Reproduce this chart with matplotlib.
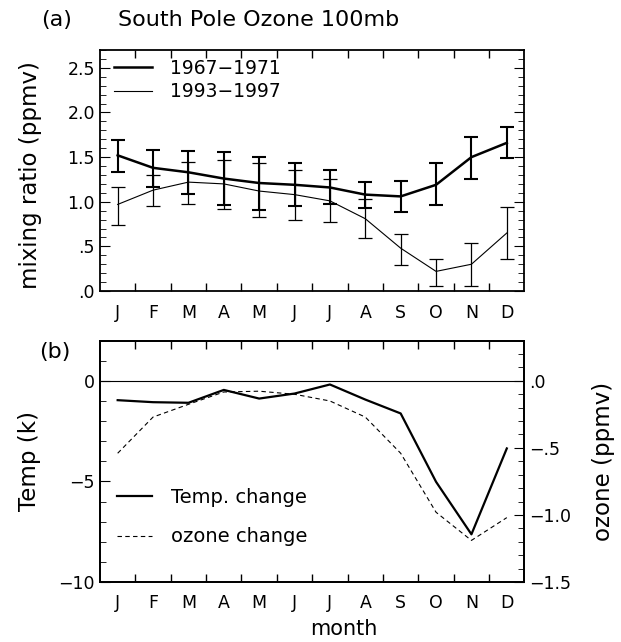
import numpy as np
import matplotlib
matplotlib.use("Agg")
import matplotlib.pyplot as plt
from matplotlib.ticker import MultipleLocator, FixedLocator, FuncFormatter

plt.rcParams['font.family'] = ['DejaVu Sans']

months = ["J", "F", "M", "A", "M", "J", "J", "A", "S", "O", "N", "D"]

# panel (a): South Pole ozone mixing ratio at 100mb (ppmv)
old_mean = [1.52, 1.38, 1.33, 1.26, 1.21, 1.19, 1.16, 1.08, 1.06, 1.19, 1.50, 1.66]
old_hi = [1.69, 1.58, 1.57, 1.56, 1.50, 1.43, 1.36, 1.22, 1.23, 1.43, 1.73, 1.84]
old_lo = [1.33, 1.17, 1.09, 0.96, 0.91, 0.95, 0.97, 0.93, 0.89, 0.96, 1.26, 1.49]
new_mean = [0.97, 1.13, 1.22, 1.20, 1.12, 1.08, 1.01, 0.81, 0.48, 0.22, 0.30, 0.65]
new_hi = [1.17, 1.30, 1.45, 1.47, 1.43, 1.36, 1.26, 1.03, 0.64, 0.36, 0.54, 0.94]
new_lo = [0.74, 0.95, 0.98, 0.92, 0.83, 0.80, 0.77, 0.59, 0.29, 0.06, 0.06, 0.36]

# panel (b): changes
temp_change = [-0.96, -1.06, -1.09, -0.45, -0.88, -0.63, -0.18, -0.93, -1.62, -5.02, -7.63, -3.36]
ozone_change = [-0.54, -0.27, -0.175, -0.083, -0.077, -0.10, -0.15, -0.27, -0.54, -0.98, -1.19, -1.02]

x = np.arange(1, 13)
fs = 12.5
lab = 16.5

fig = plt.figure(figsize=(6.21, 6.42), dpi=100)
ax1 = fig.add_axes([0.161, 0.5467, 0.6836, 0.3754])
ax2 = fig.add_axes([0.161, 0.0935, 0.6836, 0.3759])


def month_axis(ax):
    ax.set_xlim(0.5, 12.5)
    ax.xaxis.set_major_locator(FixedLocator(x))
    ax.set_xticklabels(months)
    ax.xaxis.set_minor_locator(FixedLocator(x[:-1] + 0.5))
    ax.tick_params(axis='x', which='major', length=0, pad=9, labelsize=fs)
    ax.tick_params(axis='x', which='minor', direction='in', length=6, width=1,
                   top=True, bottom=True)
    for s in ax.spines.values():
        s.set_linewidth(1.3)


def dot_fmt(v, pos):
    s = "%.1f" % abs(v)
    if s.startswith("0"):
        s = s[1:]
    return ("\u2212" if v < -1e-9 else "") + s


# ---- panel (a)
month_axis(ax1)
old_err = [np.array(old_mean) - np.array(old_lo), np.array(old_hi) - np.array(old_mean)]
new_err = [np.array(new_mean) - np.array(new_lo), np.array(new_hi) - np.array(new_mean)]
ax1.errorbar(x, old_mean, yerr=old_err, color='black', lw=1.8, elinewidth=1.5,
             capsize=5, capthick=1.5, label="1967\u22121971")
ax1.errorbar(x, new_mean, yerr=new_err, color='black', lw=0.8, elinewidth=0.9,
             capsize=5, capthick=0.9, label="1993\u22121997")
ax1.set_ylim(0, 2.7)
ax1.yaxis.set_major_locator(MultipleLocator(0.5))
ax1.yaxis.set_minor_locator(MultipleLocator(0.1))
ax1.yaxis.set_major_formatter(FuncFormatter(dot_fmt))
ax1.tick_params(axis='y', which='both', direction='in', left=True, right=True, labelsize=fs)
ax1.tick_params(axis='y', which='major', length=7)
ax1.tick_params(axis='y', which='minor', length=4)
ax1.set_ylabel("mixing ratio (ppmv)", fontsize=lab, va='center')
ax1.yaxis.set_label_coords(-0.1625, 0.48)
handles, labels = ax1.get_legend_handles_labels()
handles = [h[0] for h in handles]
ax1.legend(handles, labels, loc='upper left', frameon=False, fontsize=13.5,
           handlelength=2.0, handletextpad=0.95, labelspacing=0.25,
           bbox_to_anchor=(0.005, 1.015), borderaxespad=0.25)

# ---- panel (b)
month_axis(ax2)
ax2.axhline(0, color='black', lw=0.8)
ax2.plot(x, temp_change, color='black', lw=1.6, label="Temp. change")
ax2.set_ylim(-10, 2)
ax2.yaxis.set_major_locator(FixedLocator([-10, -5, 0]))
ax2.yaxis.set_minor_locator(MultipleLocator(1))
ax2.yaxis.set_major_formatter(FuncFormatter(lambda v, p: ("\u2212%d" % abs(v)) if v < 0 else "%d" % v))
ax2.tick_params(axis='y', which='both', direction='in', left=True, right=False, labelsize=fs)
ax2.tick_params(axis='y', which='major', length=7)
ax2.tick_params(axis='y', which='minor', length=4)
ax2.set_ylabel("Temp (k)", fontsize=lab, va='center')
ax2.yaxis.set_label_coords(-0.165, 0.5)
ax2.set_xlabel("month", fontsize=15, va='center')
ax2.xaxis.set_label_coords(0.575, -0.195)

ax3 = ax2.twinx()
ax3.plot(x, ozone_change, color='black', lw=0.8, ls=(0, (4, 3)), label="ozone change")
ax3.set_ylim(-1.5, 0.3)
ax3.yaxis.set_major_locator(MultipleLocator(0.5))
ax3.yaxis.set_minor_locator(MultipleLocator(0.1))
ax3.yaxis.set_major_formatter(FuncFormatter(dot_fmt))
ax3.tick_params(axis='y', which='both', direction='in', labelsize=fs)
ax3.tick_params(axis='y', which='major', length=7)
ax3.tick_params(axis='y', which='minor', length=4)
ax3.set_ylabel("ozone (ppmv)", fontsize=lab, va='center')
ax3.yaxis.set_label_coords(1.185, 0.5)
for s in ax3.spines.values():
    s.set_linewidth(1.3)

h2, l2 = ax2.get_legend_handles_labels()
h3, l3 = ax3.get_legend_handles_labels()
ax3.legend(h2 + h3, l2 + l3, loc='lower left', frameon=False, fontsize=14,
           handlelength=1.8, handletextpad=0.95, labelspacing=1.05,
           bbox_to_anchor=(0.0, 0.075))

fig.text(57 / 621, 1 - 20 / 642, "(a)", fontsize=16, ha='center', va='center')
fig.text(118 / 621, 1 - 20 / 642, "South Pole Ozone 100mb", fontsize=16, ha='left', va='center')
fig.text(55 / 621, 1 - 352 / 642, "(b)", fontsize=16, ha='center', va='center')

fig.savefig("out.png", dpi=100)
